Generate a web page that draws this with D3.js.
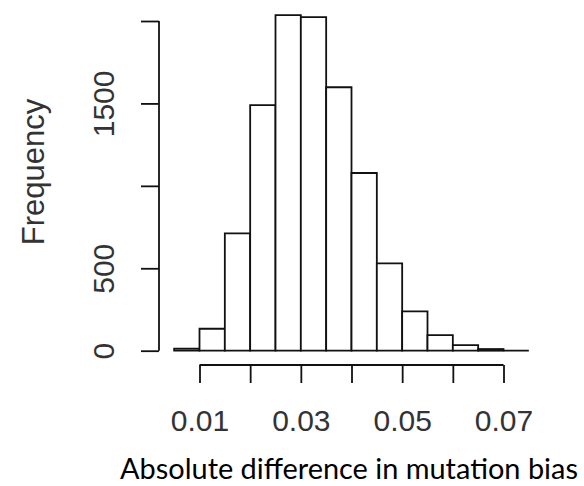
<!DOCTYPE html>
<html>
<head>
<meta charset="utf-8">
<script src="https://cdn.jsdelivr.net/npm/d3@7"></script>
<style>
  html, body { margin: 0; padding: 0; background: #fff; }
  svg { display: block; }
</style>
</head>
<body>
<svg id="chart" width="584" height="486"></svg>
<script>
// Histogram bins (lower edge) and their counts; all bins are 0.005 wide
const binStarts = [0.005, 0.010, 0.015, 0.020, 0.025, 0.030, 0.035, 0.040, 0.045, 0.050, 0.055, 0.060, 0.065, 0.070];
const binWidth = 0.005;
const counts    = [12, 133, 712, 1490, 2036, 2024, 1598, 1078, 530, 239, 95, 34, 10, 0];

// Axis ticks and the labels that are printed
const xTicks = [0.01, 0.02, 0.03, 0.04, 0.05, 0.06, 0.07];
const xTickLabels = ["0.01", "", "0.03", "", "0.05", "", "0.07"];
const yTicks = [0, 500, 1000, 1500, 2000];
const yTickLabels = ["0", "500", "", "1500", ""];

const xTitle = "Absolute difference in mutation bias";
const yTitle = "Frequency";

const svg = d3.select("#chart");

// Scales: pixel positions of the plotting region
const x = d3.scaleLinear().domain([0.01, 0.07]).range([199.5, 503.5]);
const y = d3.scaleLinear().domain([0, 2000]).range([350.7, 21]);

const ink = "#111";
const textInk = "#333";
const tickFont = "Liberation Sans, Arial, sans-serif";

// Bars drawn as closed outlines so that empty bins still show along the baseline
svg.append("g")
  .selectAll("path")
  .data(binStarts.map((s, i) => ({ x0: s, x1: s + binWidth, n: counts[i] })))
  .join("path")
  .attr("d", d => {
    const l = x(d.x0), r = x(d.x1), t = y(d.n), b = y(0);
    return `M${l},${b}V${t}H${r}V${b}Z`;
  })
  .attr("fill", "#fff")
  .attr("stroke", ink)
  .attr("stroke-width", 1.8);

// X axis, offset below the bars
const xAxis = d3.axisBottom(x)
  .tickValues(xTicks)
  .tickSize(18)
  .tickPadding(27)
  .tickFormat((d, i) => xTickLabels[i]);

const gx = svg.append("g")
  .attr("transform", "translate(0,365)")
  .call(xAxis);
gx.select(".domain").attr("d", `M${x(0.01)},0H${x(0.07)}`);
gx.selectAll("path, line").attr("stroke", ink).attr("stroke-width", 1.8);
gx.selectAll("text")
  .attr("font-family", tickFont)
  .attr("font-size", 30)
  .attr("fill", textInk);

// Y axis, offset left of the bars, labels rotated
const yAxis = d3.axisLeft(y)
  .tickValues(yTicks)
  .tickSize(18)
  .tickFormat((d, i) => yTickLabels[i]);

const gy = svg.append("g")
  .attr("transform", "translate(159,0)")
  .call(yAxis);
gy.select(".domain").attr("d", `M0,${y(0)}V${y(2000)}`);
gy.selectAll("path, line").attr("stroke", ink).attr("stroke-width", 1.8);
gy.selectAll(".tick text")
  .attr("x", null)
  .attr("dy", null)
  .attr("transform", "translate(-56,0) rotate(-90)")
  .attr("text-anchor", "middle")
  .attr("dominant-baseline", "central")
  .attr("font-family", tickFont)
  .attr("font-size", 30)
  .attr("fill", textInk);

// Y title
svg.append("text")
  .attr("transform", "translate(33,172) rotate(-90)")
  .attr("text-anchor", "middle")
  .attr("dominant-baseline", "central")
  .attr("font-family", tickFont)
  .attr("font-size", 31)
  .attr("fill", textInk)
  .text(yTitle);

// X title, sized to span its line
const xt = svg.append("text")
  .attr("x", 349)
  .attr("y", 479)
  .attr("text-anchor", "middle")
  .attr("font-family", "Lato, 'Open Sans', sans-serif")
  .attr("font-size", 28)
  .attr("fill", "#000")
  .text(xTitle);
const w = xt.node().getComputedTextLength();
xt.attr("font-size", 28 * 458 / w);
</script>
</body>
</html>
